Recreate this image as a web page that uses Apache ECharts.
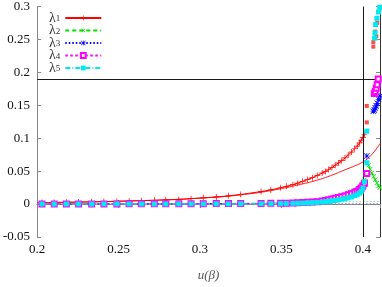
<!DOCTYPE html>
<html>
<head>
<meta charset="utf-8">
<script src="https://cdn.jsdelivr.net/npm/echarts@6/dist/echarts.min.js"></script>
<style>html,body{margin:0;padding:0;background:#fff}#c{width:382px;height:287px}</style>
</head>
<body>
<div id="c"></div>
<script>
// shared u(beta) grid for the main curves
const U = [0.203,0.2105,0.218,0.2255,0.2335,0.241,0.249,0.2565,0.264,0.272,0.279,0.287,0.2945,0.302,0.31,0.3175,0.325,0.3375,0.3435,0.3495,
  0.353,0.357,0.36,0.363,0.366,0.369,0.372,0.375,0.377,0.379,0.381,0.383,0.385,0.387,0.389,0.391,0.393,0.395,0.3965,0.398,0.399,0.4,0.401];
const L1 = [0.0022,0.0025,0.0028,0.0031,0.0034,0.0038,0.0042,0.0047,0.0052,0.0058,0.0064,0.0071,0.0081,0.0095,0.0108,0.0125,0.0145,0.019,0.0215,0.0248,
  0.027,0.0295,0.0318,0.0345,0.0372,0.04,0.0435,0.047,0.0495,0.0525,0.0555,0.059,0.0625,0.066,0.07,0.0745,0.079,0.084,0.088,0.093,0.097,0.101,0.106];
const L2 = [0.0002,0.0002,0.0002,0.0003,0.0003,0.0003,0.0003,0.0004,0.0004,0.0004,0.0005,0.0005,0.0006,0.0007,0.0008,0.0009,0.001,0.0012,0.0014,0.0016,
  0.0018,0.002,0.0023,0.0027,0.0032,0.0038,0.0045,0.006,0.007,0.0082,0.0094,0.0106,0.0118,0.0132,0.0148,0.0166,0.0186,0.021,0.0232,0.026,0.0285,0.032,0.037];
const L3 = [0.0001,0.0001,0.0001,0.0002,0.0002,0.0002,0.0002,0.0003,0.0003,0.0003,0.0004,0.0004,0.0005,0.0006,0.0007,0.0008,0.0009,0.001,0.0011,0.0012,
  0.0013,0.0015,0.0017,0.002,0.0024,0.0029,0.0035,0.0044,0.0051,0.006,0.007,0.008,0.009,0.0102,0.0115,0.013,0.0147,0.0166,0.0184,0.0208,0.023,0.026,0.03];
const L4 = [0.0001,0.0001,0.0001,0.0002,0.0002,0.0002,0.0002,0.0003,0.0003,0.0003,0.0004,0.0004,0.0005,0.0006,0.0007,0.0008,0.0009,0.001,0.0011,0.0012,
  0.0014,0.0016,0.0019,0.0022,0.0026,0.0031,0.0037,0.0047,0.0055,0.0065,0.0076,0.0087,0.0098,0.011,0.0124,0.014,0.0158,0.0178,0.0196,0.0222,0.0245,0.0278,0.032];
const L5 = [0.0001,0.0001,0.0001,0.0001,0.0001,0.0001,0.0002,0.0002,0.0002,0.0002,0.0002,0.0003,0.0003,0.0003,0.0004,0.0004,0.0005,0.0006,0.0007,0.0008,
  0.001,0.0011,0.0013,0.0015,0.0018,0.0021,0.0025,0.0031,0.0036,0.0042,0.0049,0.0056,0.0064,0.0073,0.0083,0.0095,0.0109,0.0126,0.0143,0.0167,0.0195,0.0245,0.034];

// smooth red curve (thin line)
const FU = [0.2,0.25,0.3,0.33,0.35,0.36,0.37,0.38,0.39,0.395,0.4,0.405,0.4105];
const FV = [0.002,0.0043,0.009,0.0155,0.0235,0.029,0.035,0.043,0.053,0.058,0.064,0.074,0.092];

// points beyond the critical point
const R1U = [0.4024,0.4024,0.4064,0.4064,0.4076,0.4082,0.4088];
const R1V = [0.124,0.149,0.239,0.246,0.262,0.255,0.275];
const R2U = [0.4035,0.4045,0.4055,0.4066,0.4076,0.4086,0.4096,0.4104];
const R2V = [0.059,0.053,0.047,0.042,0.037,0.032,0.0276,0.025];
const R3U = [0.4024,0.4064,0.407,0.4076,0.4082,0.4088,0.4097,0.4104];
const R3V = [0.073,0.141,0.143,0.146,0.149,0.153,0.159,0.164];
const R4U = [0.4024,0.407,0.4076,0.4082,0.4088,0.4094];
const R4V = [0.0466,0.168,0.171,0.176,0.181,0.19];
const R5U = [0.4024,0.4024,0.4072,0.4074,0.4078,0.4086,0.4096,0.4103];
const R5V = [0.0627,0.1108,0.252,0.26,0.2725,0.282,0.2916,0.2988];

// flat near-zero lines
const Z2U = [0.37,0.4105], Z2V = [0.003,0.004];
const Z3U = [0.2,0.4105], Z3V = [0.0005,0.0005];

// reference lines
const UC = 0.4024;
const YH = 0.1875;

const X_MIN = 0.2, X_MAX = 0.4105, X_INT = 0.05;
const Y_MIN = -0.05, Y_MAX = 0.3, Y_INT = 0.05;

const names = ['λ1','λ2','λ3','λ4','λ5'];
const colors = ['#ff0000','#00dd00','#0000ff','#ff00ff','#00e8f0'];

const zip = (a,b) => a.map((x,i)=>[x,b[i]]);
const FONT = 'Liberation Serif';
const PLUS = 'path://M4.4,0h1.2v4.4h4.4v1.2h-4.4v4.4h-1.2v-4.4h-4.4v-1.2h4.4z';
const STAR = 'path://M4.4,0h1.2v4.4h4.4v1.2h-4.4v4.4h-1.2v-4.4h-4.4v-1.2h4.4zM0,0.8L0.8,0L10,9.2L9.2,10zM9.2,0L10,0.8L0.8,10L0,9.2z';
const symbols = [PLUS, PLUS, STAR, 'emptyRect', 'rect'];
const symRot = [0,45,0,0,0];
const symSize = [6,6,6,5,5];
const dashes = ['solid',[4,3],[1.5,2],[2.5,2.5],[5,2,1,2]];
const mains = [L1,L2,L3,L4,L5];
const rights = [[R1U,R1V],[R2U,R2V],[R3U,R3V],[R4U,R4V],[R5U,R5V]];

const series = [];
series.push({name:'fit', type:'line', data: zip(FU,FV), smooth:true, showSymbol:false,
  lineStyle:{color:colors[0], width:0.9}, z:2, silent:true,
  markLine:{silent:true, symbol:'none', label:{show:false}, animation:false,
    lineStyle:{color:'#1a1a1a', width:1, type:'solid'},
    data:[{xAxis:UC},{yAxis:YH}]}});
series.push({name:'z3', type:'line', data: zip(Z3U,Z3V), showSymbol:false,
  lineStyle:{color:'#8080ff', width:1, type:[1.5,2]}, z:2, silent:true});
series.push({name:'z2', type:'line', data: zip(Z2U,Z2V), showSymbol:false,
  lineStyle:{color:'#80e080', width:1, type:[1.5,2]}, z:2, silent:true});
for (let i=0;i<5;i++){
  series.push({name:names[i], type:'line', data: zip(U, mains[i]),
    symbol: symbols[i], symbolSize: symSize[i], symbolRotate: symRot[i], showAllSymbol:true,
    itemStyle:{color:colors[i]},
    lineStyle:{color:colors[i], width:1, type:dashes[i]}, z:3+i});
  series.push({name:names[i]+'r', type: i===1 ? 'line' : 'scatter', data: zip(rights[i][0], rights[i][1]),
    symbol: i===0 ? 'rect' : symbols[i], symbolSize: i===0 ? 4 : symSize[i], symbolRotate: symRot[i],
    showAllSymbol:true,
    itemStyle:{color:colors[i], opacity: i===0?0.7:1},
    lineStyle:{color:colors[i], width:1, type:dashes[i]}, z:3+i});
}

const fmt = v => String(+v.toFixed(3));
const chart = echarts.init(document.getElementById('c'), null, {renderer:'canvas'});
chart.setOption({
  animation:false,
  backgroundColor:'#fff',
  grid:{left:35, right:2, top:5.5, bottom:40.3, containLabel:false},
  legend:{
    data:names, orient:'vertical', left:44, top:6, align:'right',
    itemWidth:36, itemHeight:6, itemGap:-1.5, selectedMode:false,
    formatter: n => '{g|λ}{s|' + n.slice(1) + '}',
    textStyle:{color:'#333', fontFamily:FONT, fontSize:14, lineHeight:11,
      rich:{ g:{fontFamily:FONT, fontSize:14, lineHeight:11, color:'#333'},
             s:{fontFamily:FONT, fontSize:9, lineHeight:6, verticalAlign:'bottom', color:'#333'} }}
  },
  xAxis:[{
    type:'value', min:X_MIN, max:X_MAX, interval:X_INT,
    name:'u(β)', nameLocation:'middle', nameGap:32,
    nameTextStyle:{fontFamily:FONT, fontStyle:'italic', fontSize:13, color:'#555'},
    axisLine:{lineStyle:{color:'#888', width:1}},
    axisTick:{inside:true, length:4, lineStyle:{color:'#888'}},
    axisLabel:{formatter:fmt, fontFamily:FONT, fontSize:13, color:'#111', margin:6, showMaxLabel:false},
    splitLine:{show:false}
  },{
    type:'value', min:X_MIN, max:X_MAX, interval:X_INT, position:'top',
    axisLine:{show:true, lineStyle:{color:'#888', width:1}},
    axisTick:{show:true, inside:true, length:4, lineStyle:{color:'#888'}},
    axisLabel:{show:false}, splitLine:{show:false}
  }],
  yAxis:[{
    type:'value', min:Y_MIN, max:Y_MAX, interval:Y_INT,
    axisLine:{show:true, lineStyle:{color:'#888', width:1}},
    axisTick:{show:true, inside:true, length:4, lineStyle:{color:'#888'}},
    axisLabel:{formatter:fmt, fontFamily:FONT, fontSize:13, color:'#111', margin:7},
    splitLine:{show:false}
  },{
    type:'value', min:Y_MIN, max:Y_MAX, interval:Y_INT, position:'right',
    axisLine:{show:true, lineStyle:{color:'#333', width:1}},
    axisTick:{show:true, inside:true, length:4, lineStyle:{color:'#888'}},
    axisLabel:{show:false}, splitLine:{show:false}
  }],
  series: series
});
</script>
</body>
</html>
